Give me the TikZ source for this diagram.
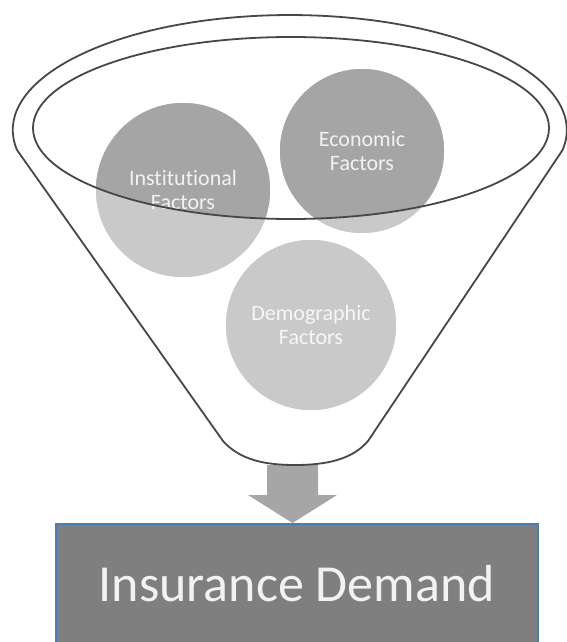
\documentclass[tikz,border=0pt]{standalone}
\usepackage{fontspec}
\setmainfont[Ligatures={NoCommon}]{Carlito}
\definecolor{factorgray}{HTML}{A5A5A5}
\definecolor{labelwhite}{HTML}{F2F2F2}
\definecolor{funnelline}{HTML}{474747}
\definecolor{arrowgray}{HTML}{A6A6A6}
\definecolor{demandgray}{HTML}{7F7F7F}
\definecolor{demandblue}{HTML}{4A7EBB}
\begin{document}
\begin{tikzpicture}[x=1pt,y=-1pt,
  factor/.style={circle, fill=factorgray, draw=white, line width=1.5pt,
    inner sep=0pt, align=center, text=labelwhite,
    font=\fontsize{22}{24}\selectfont},
  funnelstroke/.style={draw=funnelline, line width=1.8pt},
  demandbox/.style={draw=demandblue, fill=demandgray, line width=1.5pt,
    minimum width=482pt, minimum height=119pt, inner sep=0pt,
    text=labelwhite, font=\fontsize{52}{56}\selectfont}]
\useasboundingbox (0,0) rectangle (567,642);

% the three factor circles
\node[factor, minimum size=176pt] (inst) at (183,190) {Institutional\\Factors};
\node[factor, minimum size=166pt] (econ) at (362,151) {Economic\\Factors};
\node[factor, minimum size=172pt] (demo) at (311,325) {Demographic\\Factors};

% block arrow out of the funnel
\coordinate (shaftL) at (267,465);
\coordinate (shaftR) at (318,465);
\coordinate (tip) at (292.5,523);
\fill[arrowgray] (shaftL) -- (shaftR) -- (318,495) -- (337,495) -- (tip)
  -- (248,495) -- (267,495) -- cycle;

% funnel body: translucent white between the cone outline and the mouth
\path[fill=white, fill opacity=0.4, even odd rule]
  (223,441) -- (17,150) arc[start angle=170, end angle=370, x radius=277, y radius=115]
  -- (368,441) .. controls (352,460) and (325,465) .. (295,465)
  .. controls (265,465) and (240,460) .. (223,441) -- cycle
  (291,128) ellipse [x radius=258, y radius=91];

% funnel outlines
\draw[funnelstroke, line join=round]
  (223,441) -- (17,150) arc[start angle=170, end angle=370, x radius=277, y radius=115]
  -- (368,441) .. controls (352,460) and (325,465) .. (295,465)
  .. controls (265,465) and (240,460) .. (223,441) -- cycle;
\draw[funnelstroke] (291,128) ellipse [x radius=258, y radius=91];

% result box
\node[demandbox, anchor=north west] (demand) at (55,523) {Insurance Demand};
\end{tikzpicture}
\end{document}
